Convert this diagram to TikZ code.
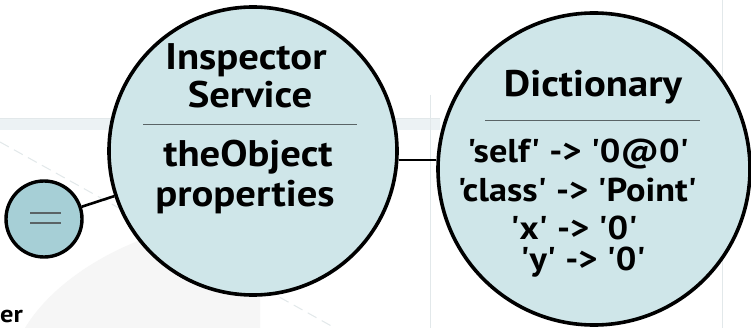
\documentclass[tikz,border=0pt]{standalone}
\usepackage{fontspec}
\setmainfont[FakeStretch=1.1,Ligatures=TeXOff]{PT Sans}
\begin{document}
\begin{tikzpicture}[x=1pt,y=-1pt,
  bigcirc/.style={circle,draw=black,line width=3.6pt,fill=circfill,inner sep=0pt},
  smallcirc/.style={circle,draw=black,line width=3.4pt,fill=smallfill,inner sep=0pt},
  conn/.style={line width=2.6pt,draw=black},
  divider/.style={line width=0.9pt,draw=divgray},
  title/.style={anchor=base,font=\bfseries\fontsize{37}{37}\selectfont,inner sep=0pt},
  entry/.style={anchor=base,font=\bfseries\fontsize{33}{33}\selectfont,inner sep=0pt},
  bgline/.style={draw=bggray,line width=0.8pt}]
\definecolor{circfill}{HTML}{CFE6E9}
\definecolor{smallfill}{HTML}{A6CFD6}
\definecolor{divgray}{HTML}{5A6466}
\definecolor{bggray}{HTML}{E2E8EA}
\definecolor{bgband}{HTML}{C9DADE}
\useasboundingbox (0,0) rectangle (751,328);
\fill[white] (0,0) rectangle (751,328);
% faint background
\fill[bgband!35] (0,118) rectangle (440,130);
\draw[bgline] (0,118) -- (440,118);
\draw[bgline] (430,95) -- (430,328);
\draw[bgline] (722,0) -- (722,328);
\draw[bgline,dashed,dash pattern=on 10pt off 6pt,line width=1pt] (0,142) -- (335,328);
\fill[gray!7] (25,328) .. controls (60,270) and (150,220) .. (260,215) -- (260,328) -- cycle;
% nodes
\node[smallcirc,minimum size=76pt] (s) at (44,219) {};
\draw[divider,line width=1.1pt] (30,213) -- (61,213);
\draw[divider,line width=1.1pt] (30,223) -- (61,223);
\node[bigcirc,minimum size=288pt] (a) at (253,151) {};
\node[bigcirc,minimum size=312pt] (b) at (594,169) {};
\draw[conn] (s) -- (a);
\draw[conn] (a.east |- 0,160) -- (b.west |- 0,160);
% circle A texts
\node[title] (a1) at (246,70) {Inspector};
\node[title] (a2) at (250,108) {Service};
\draw[divider] (143,124) -- (357,124);
\node[title] (a3) at (248,167) {theObject};
\node[title] (a4) at (245,207) {properties};
% circle B texts
\node[title] (b1) at (593,97) {Dictionary};
\draw[divider] (485,120) -- (700,120);
\node[entry] (b2) at (578,163) {'self' -> '0@0'};
\node[entry] (b3) at (577,202) {'class' -> 'Point'};
\node[entry] (b4) at (574,240) {'x' -> '0'};
\node[entry] (b5) at (583,270) {'y' -> '0'};
\node[anchor=base west,font=\bfseries\fontsize{24}{24}\selectfont,inner sep=0pt] (er) at (0,322) {er};
\end{tikzpicture}
\end{document}
